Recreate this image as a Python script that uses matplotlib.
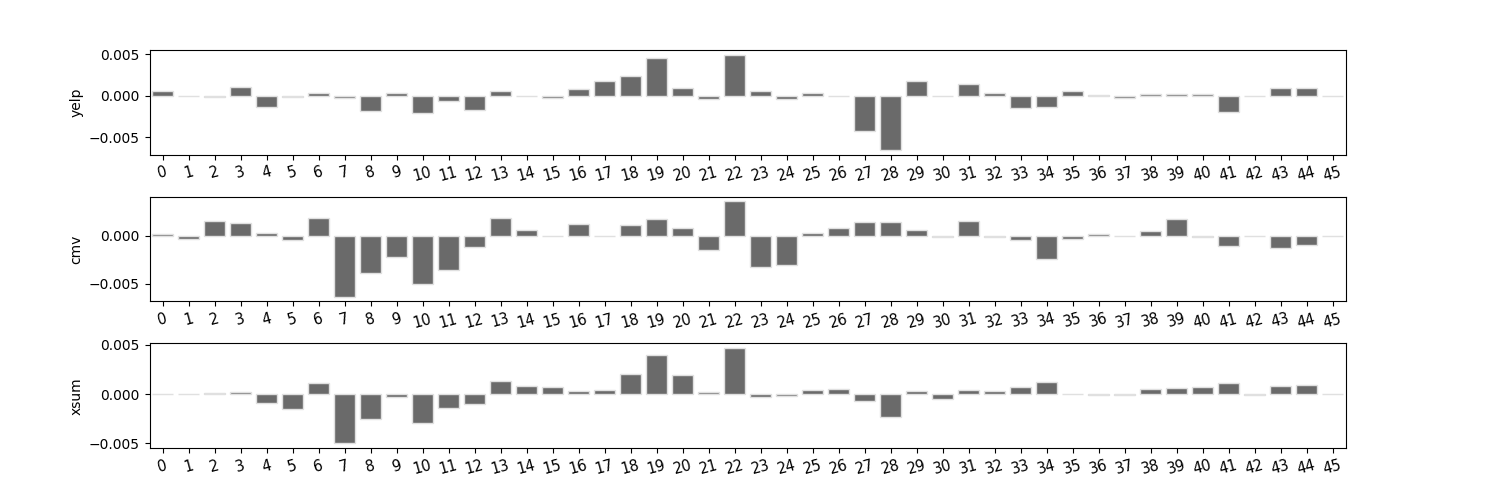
import numpy as np
import matplotlib
matplotlib.use("Agg")
import matplotlib.pyplot as plt
from matplotlib.ticker import FuncFormatter

dims = list(range(46))

yelp = [0.00052, -0.00005, -0.00015, 0.0011, -0.00133, -0.0002, 0.00032, -0.00028,
        -0.0019, 0.00028, -0.0021, -0.0006, -0.0017, 0.0006, 0.00002, -0.00025,
        0.0008, 0.00173, 0.00234, 0.0046, 0.00097, -0.00036, 0.00496, 0.00052,
        -0.0004, 0.00028, 0.00001, -0.00423, -0.00653, 0.00181, -0.00003, 0.00137,
        0.00028, -0.00149, -0.00133, 0.00056, 0.0001, -0.0003, 0.00015, 0.00025,
        0.0002, -0.00198, 0.00001, 0.00089, 0.00089, 0.0]

cmv = [0.00012, -0.0004, 0.0015, 0.0013, 0.00024, -0.0005, 0.00188, -0.00635,
       -0.00385, -0.00219, -0.005, -0.00354, -0.00118, 0.00184, 0.00056, -0.00005,
       0.00118, -0.00005, 0.0011, 0.00174, 0.0008, -0.00146, 0.00357, -0.0033,
       -0.00305, 0.00028, 0.00076, 0.00139, 0.00142, 0.00056, -0.00012, 0.00153,
       -0.00012, -0.00049, -0.0024, -0.0003, 0.00012, -0.00002, 0.00045, 0.00174,
       -0.00012, -0.00104, 0.0, -0.00125, -0.00094, 0.00001]

xsum = [0.00003, -0.00002, 0.00012, 0.00022, -0.00088, -0.00153, 0.00115, -0.00502,
        -0.00258, -0.00027, -0.00298, -0.00139, -0.00098, 0.00132, 0.00085, 0.00075,
        0.00034, 0.0004, 0.002, 0.00403, 0.00193, 0.00017, 0.00468, -0.00027,
        -0.00017, 0.00037, 0.00051, -0.00075, -0.0023, 0.0003, -0.00047, 0.0004,
        0.0003, 0.00068, 0.00119, 0.00006, -0.00005, -0.00005, 0.00051, 0.00064,
        0.00071, 0.00108, -0.00005, 0.00078, 0.00092, 0.0]

panels = [("yelp", yelp), ("cmv", cmv), ("xsum", xsum)]

def fmt(v, pos):
    return f"{v:.3f}".replace("-", "\u2212")

fig, axes = plt.subplots(3, 1, figsize=(14.95, 4.98), dpi=100)
fig.subplots_adjust(left=0.1, right=0.9, top=0.9, bottom=0.1, hspace=0.4)

for ax, (name, vals) in zip(axes, panels):
    ax.bar(dims, vals, width=0.8, color="#6a6a6a", edgecolor="0.88", linewidth=1)
    ax.set_xlim(-0.5, len(dims) - 0.5)
    ax.set_xticks(dims)
    ax.set_xticklabels([str(d) for d in dims], rotation=15, fontsize=10.5)
    ax.set_ylabel(name)
    ax.set_yticks([-0.005, 0.0, 0.005])
    ax.yaxis.set_major_formatter(FuncFormatter(fmt))
    lo, hi = min(vals), max(vals)
    pad = 0.05 * (hi - lo)
    ax.set_ylim(lo - pad, hi + pad)

fig.savefig("out.png", dpi=100)
